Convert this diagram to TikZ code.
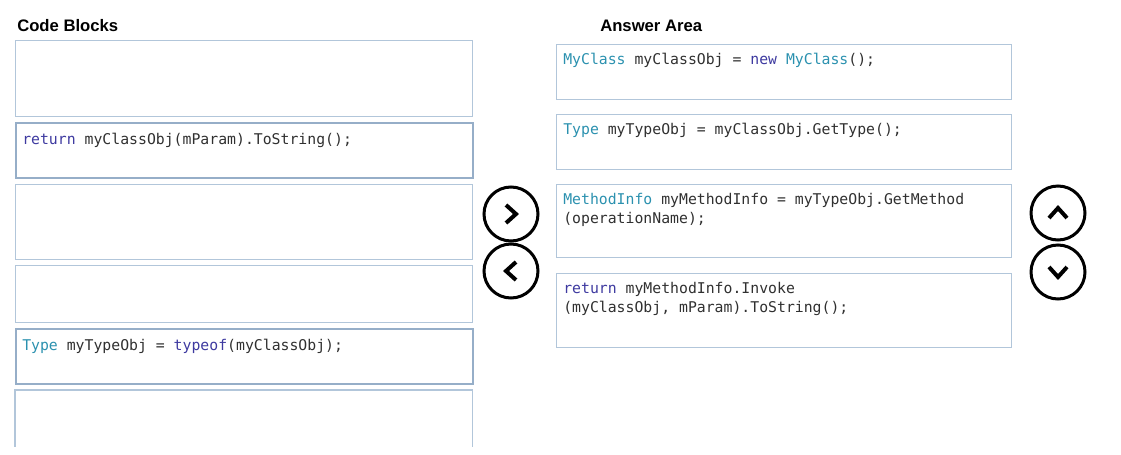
\documentclass[tikz,border=0pt]{standalone}
\usepackage{fontspec}
\setmainfont{Liberation Sans}
\newfontfamily\codefont{DejaVu Sans Mono}
\newcommand\pxu{0.75pt}
\definecolor{boxc}{RGB}{178,198,218}
\definecolor{boxdark}{RGB}{150,174,200}
\definecolor{kwc}{RGB}{62,58,160}
\definecolor{typec}{RGB}{43,145,175}
\definecolor{codec}{RGB}{48,48,48}
\tikzset{
  box/.style={draw=boxc, line width=1.3*\pxu, anchor=north west, inner sep=0pt},
  selbox/.style={draw=boxdark, line width=2.2*\pxu, anchor=north west, inner sep=0pt},
  ghost/.style={anchor=north west, inner sep=0pt},
  code/.style={anchor=base west, inner sep=0pt, align=left, text=codec,
    font=\codefont\fontsize{11.1pt}{13.9pt}\selectfont},
  header/.style={anchor=base west, inner sep=0pt,
    font=\bfseries\fontsize{12.5pt}{15pt}\selectfont},
  btn/.style={circle, draw=black, line width=3*\pxu, minimum size=54*\pxu, inner sep=0pt},
  chev/.style={line width=4*\pxu, line join=miter, line cap=butt}
}
\newcommand\kw[1]{\textcolor{kwc}{#1}}
\newcommand\ty[1]{\textcolor{typec}{#1}}
\begin{document}
\begin{tikzpicture}[x=0.75pt, y=-0.75pt]
\useasboundingbox (0,0) rectangle (1121,454);
% headers
\node[header] (h1) at (17,31) {Code Blocks};
\node[header] (h2) at (600,31) {Answer Area};
% left column
\node[box, minimum width=457*\pxu, minimum height=76*\pxu] (b1) at (15,40) {};
\node[selbox, minimum width=457*\pxu, minimum height=55*\pxu] (b2) at (15,122) {};
\node[box, minimum width=457*\pxu, minimum height=75*\pxu] (b3) at (15,184) {};
\node[box, minimum width=457*\pxu, minimum height=57*\pxu] (b4) at (15,265) {};
\node[selbox, minimum width=457*\pxu, minimum height=55*\pxu] (b5) at (15,328) {};
\node[ghost, minimum width=457*\pxu, minimum height=56*\pxu] (b6) at (15,390) {};
\draw[draw=boxc, line width=1.3*\pxu] (b6.south west) -- (b6.north west) -- (b6.north east) -- (b6.south east);
\node[code] (t2) at ([xshift=7*\pxu, yshift=-22*\pxu]b2.north west) {\kw{return} myClassObj(mParam).ToString();};
\node[code] (t5) at ([xshift=7*\pxu, yshift=-22*\pxu]b5.north west) {\ty{Type} myTypeObj = \kw{typeof}(myClassObj);};
% right column
\node[box, minimum width=455*\pxu, minimum height=55*\pxu] (r1) at (556,44) {};
\node[box, minimum width=455*\pxu, minimum height=55*\pxu] (r2) at (556,114) {};
\node[box, minimum width=455*\pxu, minimum height=73*\pxu] (r3) at (556,184) {};
\node[box, minimum width=455*\pxu, minimum height=74*\pxu] (r4) at (556,273) {};
\node[code] (s1) at ([xshift=7*\pxu, yshift=-20*\pxu]r1.north west) {\ty{MyClass} myClassObj = \kw{new} \ty{MyClass}();};
\node[code] (s2) at ([xshift=7*\pxu, yshift=-20*\pxu]r2.north west) {\ty{Type} myTypeObj = myClassObj.GetType();};
\node[code, anchor=north west] (s3) at ([xshift=7*\pxu, yshift=-9*\pxu]r3.north west) {\ty{MethodInfo} myMethodInfo = myTypeObj.GetMethod\\(operationName);};
\node[code, anchor=north west] (s4) at ([xshift=7*\pxu, yshift=-9*\pxu]r4.north west) {\kw{return} myMethodInfo.Invoke\\(myClassObj, mParam).ToString();};
% buttons
\node[btn] (right) at (511,214) {};
\node[btn] (left) at (511,271) {};
\node[btn] (up) at (1058,213) {};
\node[btn] (down) at (1058,272) {};
\draw[chev] ([shift={(-5,-9)}]right.center) -- ([shift={(5,0)}]right.center) -- ([shift={(-5,9)}]right.center);
\draw[chev] ([shift={(5,-9)}]left.center) -- ([shift={(-5,0)}]left.center) -- ([shift={(5,9)}]left.center);
\draw[chev] ([shift={(-9,5)}]up.center) -- ([shift={(0,-5)}]up.center) -- ([shift={(9,5)}]up.center);
\draw[chev] ([shift={(-9,-5)}]down.center) -- ([shift={(0,5)}]down.center) -- ([shift={(9,-5)}]down.center);
\end{tikzpicture}
\end{document}
